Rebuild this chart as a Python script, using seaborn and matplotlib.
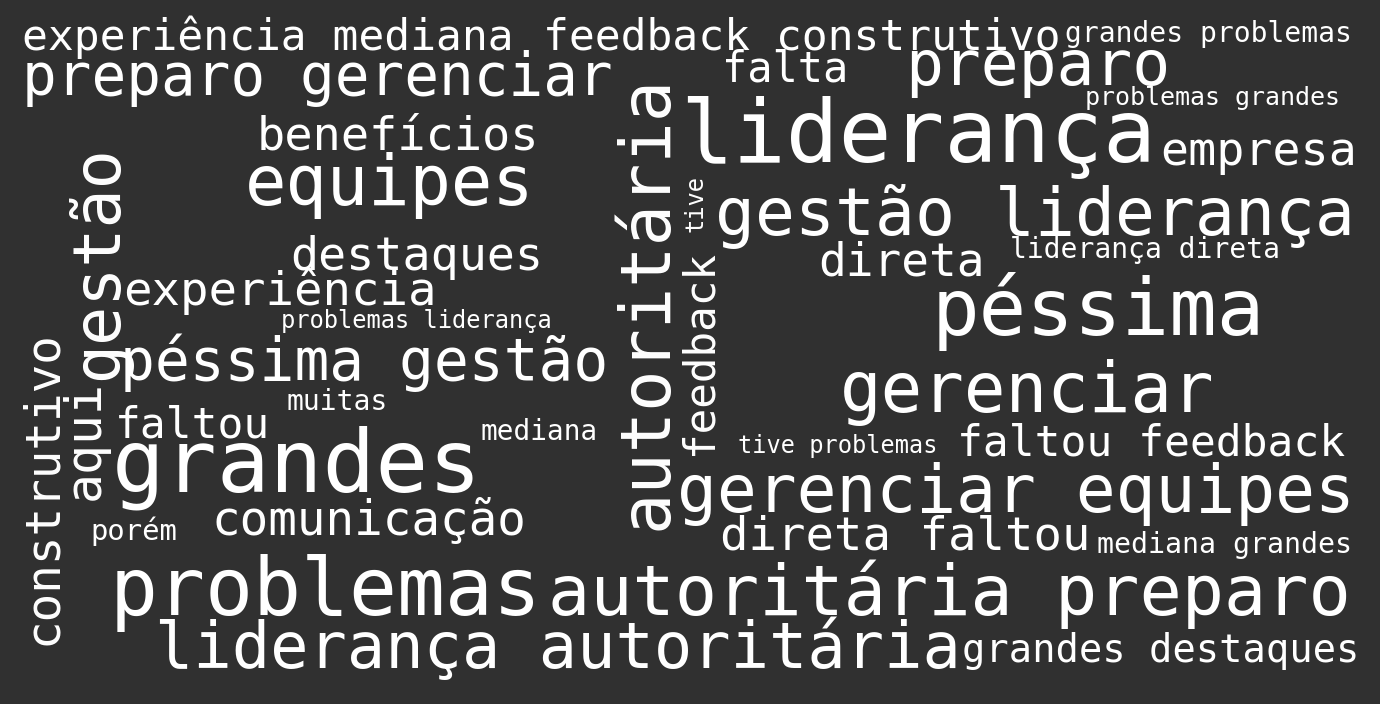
import matplotlib
matplotlib.use("Agg")
import matplotlib.pyplot as plt
import seaborn as sns

# --- dados: termos e peso (tamanho relativo) ---
words = [
    "experiência mediana", "feedback construtivo", "grandes problemas", "preparo gerenciar",
    "falta", "preparo", "problemas grandes", "liderança", "empresa", "benefícios",
    "equipes", "gestão liderança", "destaques", "direta", "liderança direta",
    "experiência", "problemas liderança", "péssima", "péssima gestão", "gerenciar",
    "muitas", "faltou", "mediana", "tive problemas", "faltou feedback", "grandes",
    "gerenciar equipes", "comunicação", "porém", "direta faltou", "mediana grandes",
    "problemas", "autoritária preparo", "liderança autoritária", "grandes destaques",
    "autoritária", "gestão", "construtivo", "aqui", "feedback", "tive",
]
weights = [
    43, 43, 28, 57.6, 42, 63, 25, 87.7, 46.7, 47,
    68.8, 66.4, 46.7, 46.2, 28, 47.4, 23.8, 79, 57.9, 69.2,
    28, 42.9, 27.8, 23.6, 43, 87.8, 66.2, 47.6, 28.9, 47.3, 28.3,
    79.7, 70.3, 63.7, 38.7, 68.7, 65, 47.6, 49.8, 42.6, 23.7,
]

# --- layout (pixels: início da linha de base, rotação) ---
layout_x = [22, 543, 1065, 22, 722, 905, 1085, 680, 1160, 257,
            245, 715, 290, 818, 1010, 123, 281, 932, 120, 840,
            287, 115, 481, 738, 957, 112, 677, 212, 90, 720, 1097,
            110, 548, 155, 962, 667, 117, 56, 99, 711, 703]
layout_y = [50, 50, 42, 95, 82, 85, 105, 162, 165, 150,
            205, 235, 270, 275, 258, 305, 328, 335, 380, 412,
            410, 437, 440, 453, 455, 492, 512, 535, 540, 550, 553,
            615, 615, 668, 662, 530, 380, 645, 500, 455, 232]
rotations = [0] * 35 + [90] * 6

BG = "#303030"

sns.set_theme(style="dark")
plt.rcParams["font.family"] = ["DejaVu Sans Mono", "DejaVu Sans"]

fig = plt.figure(figsize=(13.8, 7.04), dpi=100, facecolor=BG)
ax = fig.add_axes([0, 0, 1, 1])
ax.set_facecolor(BG)
ax.set_xlim(0, 1380)
ax.set_ylim(704, 0)
ax.axis("off")

for w, s, x, y, r in zip(words, weights, layout_x, layout_y, rotations):
    ax.text(x, y, w, fontsize=s * 0.72, color="white", rotation=r,
            rotation_mode="anchor", ha="left", va="baseline")

fig.savefig("out.png", dpi=100, facecolor=BG)
